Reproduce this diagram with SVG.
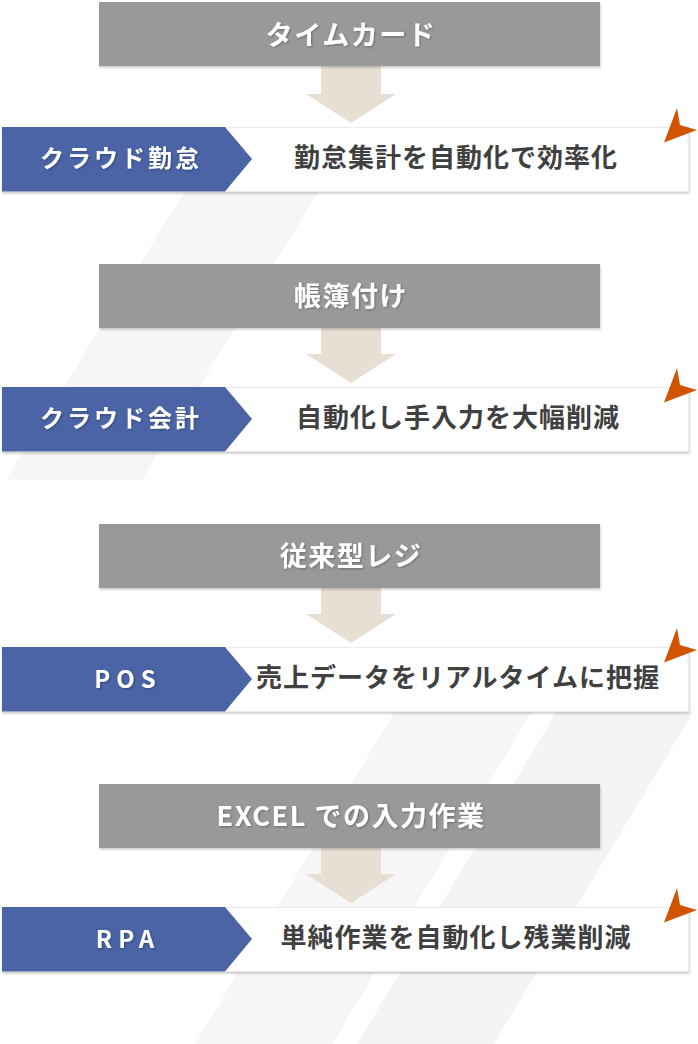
<svg xmlns="http://www.w3.org/2000/svg" width="698" height="1044" viewBox="0 0 698 1044">
  <defs>
    <style>
      .stripe { fill: #f6f6f6; }
      .stripe2 { fill: #f4f4f4; }
      .src { fill: #999999; filter: url(#shadow); }
      .srcText { font-family: "Noto Sans CJK JP", "Noto Sans", sans-serif; font-weight: 700; font-size: 27px; fill: #ffffff; text-anchor: middle; letter-spacing: 1.5px; filter: url(#tshadow); }
      .card { fill: #ffffff; stroke: #ebebeb; stroke-width: 1; filter: url(#shadow); }
      .tag { fill: #4a64a6; }
      .tagText { font-family: "Noto Sans CJK JP", "Noto Sans", sans-serif; font-weight: 700; font-size: 24px; fill: #ffffff; text-anchor: middle; letter-spacing: 3px; filter: url(#tshadow); }
      .tagLatin { letter-spacing: 6px; }
      .desc { font-family: "Noto Sans CJK JP", "Noto Sans", sans-serif; font-weight: 700; font-size: 26px; fill: #404040; text-anchor: middle; letter-spacing: 1px; }
      .flow { fill: #e7ded4; }
      .accent { fill: #d35400; }
    </style>
    <filter id="shadow" x="-5%" y="-20%" width="110%" height="150%">
      <feDropShadow dx="0.5" dy="1.5" stdDeviation="1" flood-color="#000000" flood-opacity="0.22"/>
    </filter>
    <filter id="tshadow" x="-10%" y="-30%" width="120%" height="160%">
      <feDropShadow dx="1" dy="1" stdDeviation="1" flood-color="#000000" flood-opacity="0.3"/>
    </filter>
    <path id="flag" d="M677,-19 L680,-2 L697,3 L664,15.5 Z"/>
  </defs>

  <g id="background">
    <polygon class="stripe" points="185,191 319,191 142,480 6,480"/>
    <polygon class="stripe" points="395,711 532,711 332,1044 195,1044"/>
    <polygon class="stripe2" points="557,711 694,711 494,1044 357,1044"/>
  </g>

  <g id="connectors">
    <path class="flow" d="M321,66 H381 V94 H396 L351,123 L306,94 H321 Z"/>
    <path class="flow" d="M321,328 H381 V354 H396 L351,383 L306,354 H321 Z"/>
    <path class="flow" d="M321,588 H381 V614 H396 L351,643 L306,614 H321 Z"/>
    <path class="flow" d="M321,848 H381 V874 H396 L351,903 L306,874 H321 Z"/>
  </g>

  <g id="node-timecard">
    <rect class="src" x="99" y="2" width="501" height="64"/>
    <text class="srcText" x="351" y="45">タイムカード</text>
  </g>
  <g id="node-cloud-attendance">
    <rect class="card" x="2.5" y="127.5" width="686" height="64"/>
    <polygon class="tag" points="2,127 225,127 252,159 225,191.5 2,191.5"/>
    <text class="tagText" x="121" y="167">クラウド勤怠</text>
    <text class="desc" x="456" y="167">勤怠集計を自動化で効率化</text>
    <use href="#flag" class="accent" transform="translate(0,127)"/>
  </g>

  <g id="node-bookkeeping">
    <rect class="src" x="99" y="264" width="501" height="64"/>
    <text class="srcText" x="351" y="306">帳簿付け</text>
  </g>
  <g id="node-cloud-accounting">
    <rect class="card" x="2.5" y="387.5" width="686" height="64"/>
    <polygon class="tag" points="2,387 225,387 252,419 225,451.5 2,451.5"/>
    <text class="tagText" x="121" y="427">クラウド会計</text>
    <text class="desc" x="458" y="427">自動化し手入力を大幅削減</text>
    <use href="#flag" class="accent" transform="translate(0,387)"/>
  </g>

  <g id="node-register">
    <rect class="src" x="99" y="524" width="501" height="64"/>
    <text class="srcText" x="351" y="566">従来型レジ</text>
  </g>
  <g id="node-pos">
    <rect class="card" x="2.5" y="647.5" width="686" height="64"/>
    <polygon class="tag" points="2,647 225,647 252,679 225,711.5 2,711.5"/>
    <text class="tagText tagLatin" x="128" y="688">POS</text>
    <text class="desc" x="458" y="687">売上データをリアルタイムに把握</text>
    <use href="#flag" class="accent" transform="translate(0,647)"/>
  </g>

  <g id="node-excel">
    <rect class="src" x="99" y="784" width="501" height="64"/>
    <text class="srcText" x="351" y="826">EXCEL での入力作業</text>
  </g>
  <g id="node-rpa">
    <rect class="card" x="2.5" y="907.5" width="686" height="64"/>
    <polygon class="tag" points="2,907 225,907 252,939 225,971.5 2,971.5"/>
    <text class="tagText tagLatin" x="128" y="948">RPA</text>
    <text class="desc" x="456" y="947">単純作業を自動化し残業削減</text>
    <use href="#flag" class="accent" transform="translate(0,907)"/>
  </g>
</svg>
